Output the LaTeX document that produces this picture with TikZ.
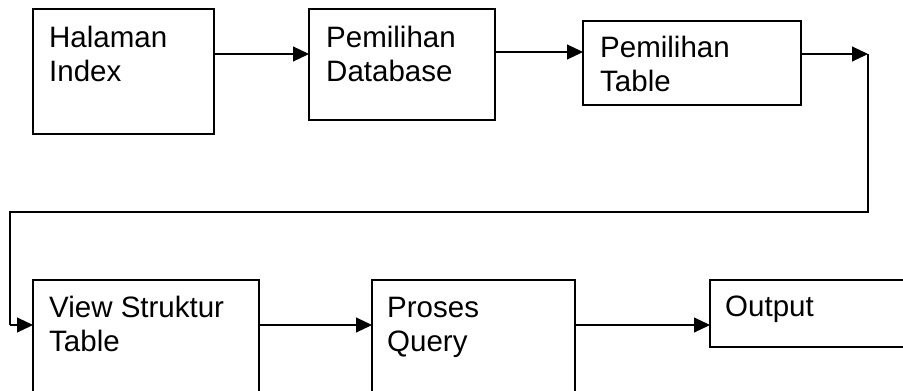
\documentclass[tikz,border=0pt]{standalone}
\usepackage{fontspec}
\setmainfont{Liberation Sans}
\usetikzlibrary{arrows.meta}
\begin{document}
\begin{tikzpicture}[x=1pt,y=-1pt,
  box/.style={draw=black,line width=1.2pt,inner sep=0pt,outer sep=0pt,anchor=north west},
  lbl/.style={anchor=base west,inner sep=0pt,align=left,font=\fontsize{29.5}{34}\selectfont},
  conn/.style={line width=1.1pt},
  arr/.style={conn,-{Triangle[length=16pt,width=15pt]}}]
\clip (0,0) rectangle (903,391);
\fill[white] (0,0) rectangle (903,391);
% boxes
\node[box,minimum width=181pt,minimum height=125pt] (b1) at (33,9) {};
\node[box,minimum width=186pt,minimum height=111pt] (b2) at (309,9) {};
\node[box,minimum width=218pt,minimum height=84pt] (b3) at (583,21) {};
\node[box,minimum width=226pt,minimum height=140pt] (b4) at (33,280) {};
\node[box,minimum width=203pt,minimum height=140pt] (b5) at (372,280) {};
\node[box,minimum width=220pt,minimum height=67pt] (b6) at (710,280) {};
% labels (base anchor = baseline of last line)
\node[lbl] (t1) at ([xshift=16pt,yshift=-72pt]b1.north west) {Halaman\\Index};
\node[lbl] (t2) at ([xshift=17pt,yshift=-72pt]b2.north west) {Pemilihan\\Database};
\node[lbl] (t3) at ([xshift=17pt,yshift=-70.5pt]b3.north west) {Pemilihan\\Table};
\node[lbl] (t4) at ([xshift=16pt,yshift=-71pt]b4.north west) {View Struktur\\Table};
\node[lbl] (t5) at ([xshift=15pt,yshift=-71pt]b5.north west) {Proses\\Query};
\node[lbl] (t6) at ([xshift=15pt,yshift=-36pt]b6.north west) {Output};
% connector corner points
\coordinate (c1) at (868,54);
\coordinate (c2) at (868,212);
\coordinate (c3) at (10,212);
\coordinate (c4) at (10,325);
% connectors
\draw[arr] ([yshift=-45pt]b1.north east) -- ([yshift=-45pt]b2.north west);
\draw[arr] ([yshift=-43pt]b2.north east) -- ([yshift=-31pt]b3.north west);
\draw[arr] ([yshift=-33pt]b3.north east) -- (c1);
\draw[conn] (c1) -- (c2) -- (c3) -- (c4);
\draw[arr] (c4) -- ([yshift=-45pt]b4.north west);
\draw[arr] ([yshift=-45pt]b4.north east) -- ([yshift=-45pt]b5.north west);
\draw[arr] ([yshift=-45pt]b5.north east) -- ([yshift=-45pt]b6.north west);
\end{tikzpicture}
\end{document}
